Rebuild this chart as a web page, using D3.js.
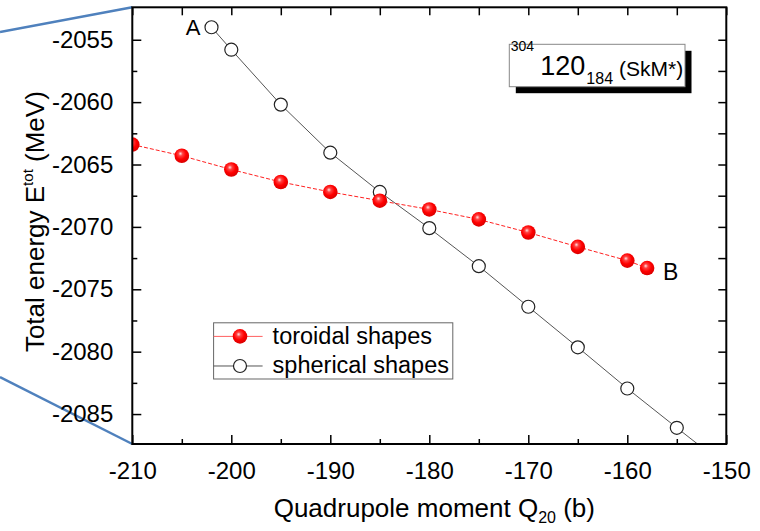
<!DOCTYPE html>
<html>
<head>
<meta charset="utf-8">
<script src="https://cdn.jsdelivr.net/npm/d3@7"></script>
<style>
  html, body { margin: 0; padding: 0; background: #fff; }
  svg { display: block; font-family: "Liberation Sans", Arial, sans-serif; }
</style>
</head>
<body>
<div id="chart"></div>
<script>
// data
const toroidalQ = [-210, -205, -200, -195, -190, -185, -180, -175, -170, -165, -160, -158];
const toroidalE = [-2063.4, -2064.3, -2065.4, -2066.4, -2067.2, -2067.9, -2068.6, -2069.4, -2070.45, -2071.6, -2072.7, -2073.3];
const sphericalQ = [-202, -200, -195, -190, -185, -180, -175, -170, -165, -160, -155, -150];
const sphericalE = [-2054.0, -2055.8, -2060.2, -2064.05, -2067.2, -2070.1, -2073.15, -2076.4, -2079.65, -2082.95, -2086.1, -2089.2];
const xTicks = [-210, -200, -190, -180, -170, -160, -150];
const yTicks = [-2055, -2060, -2065, -2070, -2075, -2080, -2085];
const legendLabels = ["toroidal shapes", "spherical shapes"];

const W = 760, H = 531;
const margin = { top: 7.3, right: 33.7, bottom: 87, left: 132.3 };
const width = W - margin.left - margin.right;
const height = H - margin.top - margin.bottom;

const root = d3.select("#chart").append("svg")
  .attr("width", W)
  .attr("height", H);

// zoom-in connector lines on the left
root.append("line")
  .attr("x1", 0).attr("y1", 32).attr("x2", margin.left).attr("y2", margin.top)
  .attr("stroke", "#4f81bd").attr("stroke-width", 2.5);
root.append("line")
  .attr("x1", 0).attr("y1", 377).attr("x2", margin.left).attr("y2", margin.top + height)
  .attr("stroke", "#4f81bd").attr("stroke-width", 2.5);

const svg = root.append("g")
  .attr("transform", `translate(${margin.left},${margin.top})`);

const x = d3.scaleLinear().domain([-210, -150]).range([0, width]);
const y = d3.scaleLinear().domain([-2087.4, -2052.4]).range([height, 0]);

const defs = root.append("defs");
defs.append("clipPath").attr("id", "plotClip")
  .append("rect").attr("width", width).attr("height", height);

const grad = defs.append("radialGradient")
  .attr("id", "ball")
  .attr("cx", "45%").attr("cy", "40%").attr("r", "60%")
  .attr("fx", "40%").attr("fy", "35%");
grad.append("stop").attr("offset", "0%").attr("stop-color", "#ffe0e0");
grad.append("stop").attr("offset", "25%").attr("stop-color", "#ff4040");
grad.append("stop").attr("offset", "60%").attr("stop-color", "#ff0000");
grad.append("stop").attr("offset", "100%").attr("stop-color", "#d80000");

const toroidal = toroidalQ.map((q, i) => ({ q, e: toroidalE[i] }));
const spherical = sphericalQ.map((q, i) => ({ q, e: sphericalE[i] }));

const line = d3.line().x(d => x(d.q)).y(d => y(d.e));

const plot = svg.append("g").attr("clip-path", "url(#plotClip)");

// spherical
plot.append("path")
  .datum(spherical)
  .attr("d", line)
  .attr("fill", "none")
  .attr("stroke", "#555")
  .attr("stroke-width", 1);

// toroidal
plot.append("path")
  .datum(toroidal)
  .attr("d", line)
  .attr("fill", "none")
  .attr("stroke", "#ff2020")
  .attr("stroke-width", 1)
  .attr("stroke-dasharray", "4,2");

plot.selectAll("circle.sph")
  .data(spherical)
  .enter()
  .append("circle")
  .attr("class", "sph")
  .attr("cx", d => x(d.q))
  .attr("cy", d => y(d.e))
  .attr("r", 6.5)
  .attr("fill", "#fff")
  .attr("stroke", "#222")
  .attr("stroke-width", 1.2);

plot.selectAll("circle.tor")
  .data(toroidal)
  .enter()
  .append("circle")
  .attr("class", "tor")
  .attr("cx", d => x(d.q))
  .attr("cy", d => y(d.e))
  .attr("r", 7.3)
  .attr("fill", "url(#ball)");

// axes, ticks inward, plain hyphen minus
const fmt = d => String(d);
const xMinor = d3.range(-205, -150, 10);
const yMinor = d3.range(-2057.5, -2087, -5);

svg.append("g")
  .attr("transform", `translate(0,${height})`)
  .call(d3.axisBottom(x).tickValues(xTicks).tickSize(-9).tickPadding(18).tickFormat(fmt))
  .call(g => g.select(".domain").remove())
  .call(g => g.selectAll("text").attr("font-size", 24).attr("fill", "#000"));
svg.append("g")
  .attr("transform", `translate(0,${height})`)
  .call(d3.axisBottom(x).tickValues(xMinor).tickSize(-5).tickFormat(""))
  .call(g => g.select(".domain").remove());

svg.append("g")
  .call(d3.axisLeft(y).tickValues(yTicks).tickSize(-9).tickPadding(19).tickFormat(fmt))
  .call(g => g.select(".domain").remove())
  .call(g => g.selectAll("text").attr("font-size", 24).attr("fill", "#000"));
svg.append("g")
  .call(d3.axisLeft(y).tickValues(yMinor).tickSize(-5).tickFormat(""))
  .call(g => g.select(".domain").remove());

// mirror ticks top and right
svg.append("g")
  .call(d3.axisTop(x).tickValues(xTicks.concat(xMinor)).tickSize(-8).tickFormat(""))
  .call(g => g.select(".domain").remove());
svg.append("g")
  .attr("transform", `translate(${width},0)`)
  .call(d3.axisRight(y).tickValues(yTicks.concat(yMinor)).tickSize(-8).tickFormat(""))
  .call(g => g.select(".domain").remove());

svg.selectAll(".tick line").attr("stroke", "#000").attr("stroke-width", 1.5);

svg.append("rect")
  .attr("width", width)
  .attr("height", height)
  .attr("fill", "none")
  .attr("stroke", "#000")
  .attr("stroke-width", 2);

// A / B labels
svg.append("text")
  .attr("x", x(-202) - 11)
  .attr("y", y(-2054.0) + 8)
  .attr("text-anchor", "end")
  .attr("font-size", 22)
  .text("A");
svg.append("text")
  .attr("x", x(-158) + 16)
  .attr("y", y(-2073.3) + 12)
  .attr("font-size", 23)
  .text("B");

// nucleus label box
const box = svg.append("g").attr("transform", `translate(${509.3 - margin.left},${44.3 - margin.top})`);
box.append("rect").attr("x", 6.5).attr("y", 6.5).attr("width", 175.7).attr("height", 42.4).attr("fill", "#000");
box.append("rect").attr("width", 175.7).attr("height", 42.4).attr("fill", "#fff").attr("stroke", "#888").attr("stroke-width", 1);
const lbl = box.append("text").attr("y", 31);
lbl.append("tspan").attr("x", 1.5).attr("dy", -24).attr("font-size", 14).text("304");
lbl.append("tspan").attr("x", 31).attr("dy", 24).attr("font-size", 27).text("120");
lbl.append("tspan").attr("dy", 9).attr("dx", 1).attr("font-size", 16).text("184");
lbl.append("tspan").attr("dy", -8).attr("dx", 6).attr("font-size", 21).text("(SkM*)");

// legend
const legend = svg.append("g").attr("transform", `translate(${213.6 - margin.left},${322.8 - margin.top})`);
legend.append("rect").attr("width", 239.2).attr("height", 56.2)
  .attr("fill", "#fff").attr("stroke", "#666").attr("stroke-width", 1);
const legendRows = [
  { label: legendLabels[0], y: 13.6, stroke: "#ff6060", tor: true },
  { label: legendLabels[1], y: 43.2, stroke: "#555", tor: false }
];
legendRows.forEach(r => {
  legend.append("line").attr("x1", 0).attr("x2", 49).attr("y1", r.y).attr("y2", r.y)
    .attr("stroke", r.stroke).attr("stroke-width", 1);
  const c = legend.append("circle").attr("cx", 26.4).attr("cy", r.y);
  if (r.tor) c.attr("r", 7.3).attr("fill", "url(#ball)");
  else c.attr("r", 6.5).attr("fill", "#fff").attr("stroke", "#222").attr("stroke-width", 1.2);
  legend.append("text").attr("x", 59).attr("y", r.y + 7.5).attr("font-size", 23.5).text(r.label);
});

// axis titles
const xt = svg.append("text")
  .attr("x", width / 2 + 5)
  .attr("y", height + 73)
  .attr("text-anchor", "middle")
  .attr("font-size", 26);
xt.append("tspan").text("Quadrupole moment Q");
xt.append("tspan").attr("font-size", 16).attr("dy", 6).text("20");
xt.append("tspan").attr("dy", -6).text(" (b)");

const yt = svg.append("text")
  .attr("transform", `translate(${35 - margin.left + 9},${height / 2 - 4}) rotate(-90)`)
  .attr("text-anchor", "middle")
  .attr("font-size", 26);
yt.append("tspan").text("Total energy E");
yt.append("tspan").attr("font-size", 15).attr("dy", -11).text("tot");
yt.append("tspan").attr("dy", 11).text(" (MeV)");
</script>
</body>
</html>
